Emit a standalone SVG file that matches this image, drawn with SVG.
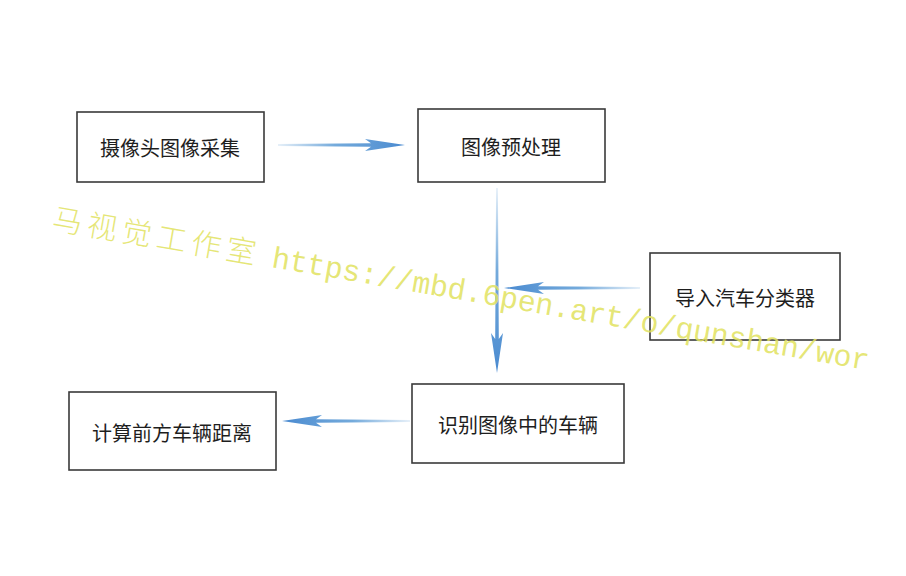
<svg xmlns="http://www.w3.org/2000/svg" width="906" height="576" viewBox="0 0 906 576">
  <style>
    .box { fill: #ffffff; stroke: #3a3a3a; stroke-width: 1.6; }
    .label { font-family: "Noto Sans CJK SC", "Microsoft YaHei", sans-serif; font-size: 20px; fill: #1e1e1e; text-anchor: middle; dominant-baseline: central; }
    .arrow { fill: url(#shaftGrad); }
    .wm { font-size: 30px; fill: #e1e25e; fill-opacity: 0.85; }
    .wm-cjk { font-family: "Noto Sans CJK SC", sans-serif; letter-spacing: 5.2px; font-weight: 300; }
    .wm-lat { font-family: "Liberation Mono", monospace; letter-spacing: -0.2px; }
  </style>
  <defs>
    <!-- shaft fades in from the tail toward the head -->
    <linearGradient id="shaftGrad" x1="0" y1="0" x2="1" y2="0">
      <stop offset="0" stop-color="#5b9bd5" stop-opacity="0.15"/>
      <stop offset="0.45" stop-color="#5b9bd5" stop-opacity="0.85"/>
      <stop offset="1" stop-color="#4a8ad0"/>
    </linearGradient>
    <clipPath id="wmClip">
      <rect x="0" y="0" width="868" height="576"/>
    </clipPath>
  </defs>

  <rect width="906" height="576" fill="#ffffff"/>

  <!-- connectors: each drawn pointing along +x, then placed -->
  <g id="connectors">
    <!-- camera capture -> preprocessing -->
    <g transform="translate(405,145)">
      <polygon class="arrow" points="-127,-0.9 -34,-1.8 -40,-6 0,0 -40,6 -34,1.8 -127,0.9"/>
    </g>
    <!-- preprocessing -> recognition -->
    <g transform="translate(497,373) rotate(90)">
      <polygon class="arrow" points="-185,-0.9 -34,-1.8 -40,-6 0,0 -40,6 -34,1.8 -185,0.9"/>
    </g>
    <!-- classifier -> vertical flow -->
    <g transform="translate(504,288) rotate(180)">
      <polygon class="arrow" points="-136,-0.9 -34,-1.8 -40,-6 0,0 -40,6 -34,1.8 -136,0.9"/>
    </g>
    <!-- recognition -> distance -->
    <g transform="translate(282,421) rotate(180)">
      <polygon class="arrow" points="-128,-0.9 -34,-1.8 -40,-6 0,0 -40,6 -34,1.8 -128,0.9"/>
    </g>
  </g>

  <g id="capture">
    <rect class="box" x="77" y="112" width="187" height="70"/>
    <text class="label" x="170" y="147">摄像头图像采集</text>
  </g>
  <g id="preprocess">
    <rect class="box" x="418" y="109" width="187" height="73"/>
    <text class="label" x="511" y="146">图像预处理</text>
  </g>
  <g id="classifier">
    <rect class="box" x="650" y="253" width="190" height="87"/>
    <text class="label" x="745" y="297">导入汽车分类器</text>
  </g>
  <g id="recognize">
    <rect class="box" x="412" y="384" width="212" height="79"/>
    <text class="label" x="518" y="424">识别图像中的车辆</text>
  </g>
  <g id="distance">
    <rect class="box" x="69" y="392" width="207" height="78"/>
    <text class="label" x="172" y="432">计算前方车辆距离</text>
  </g>

  <!-- watermark -->
  <g clip-path="url(#wmClip)">
    <text class="wm" x="51" y="229" transform="rotate(9.8 51 229)"><tspan class="wm-cjk">马视觉工作室 </tspan><tspan class="wm-lat">https://mbd.6pen.art/o/qunshan/wor</tspan></text>
  </g>
</svg>
